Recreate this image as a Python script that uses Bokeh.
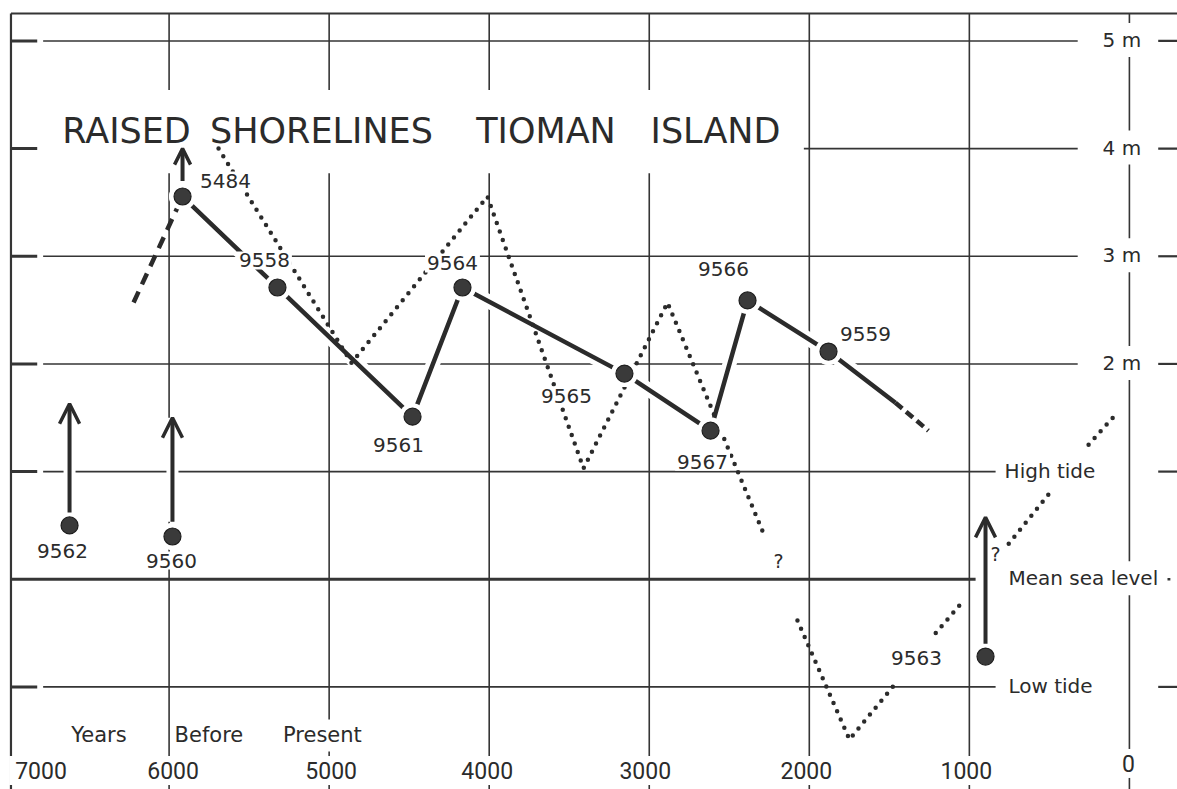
from bokeh.plotting import figure
from bokeh.models import ColumnDataSource, Range1d, Arrow, OpenHead
from bokeh.core.properties import value
from bokeh.embed import file_html
from bokeh.resources import INLINE

# ---------------- data (years BP, metres) ----------------
sample_ids = ["5484", "9558", "9561", "9564", "9565", "9567", "9566", "9559", "9562", "9560", "9563"]
sample_years = [5916, 5323, 4479, 4167, 3155, 2617, 2386, 1880, 6622, 5979, 899]
sample_heights = [3.555, 2.71, 1.51, 2.71, 1.91, 1.38, 2.59, 2.115, 0.50, 0.397, -0.718]
label_dx = [43, -13, -14, -10, -58, -8, -24, 37, -7, -1, -69]
label_dy = [-16, -27, 28, -24, 22, 31, -31, -18, 26, 24, 1]

# connected shoreline sequence (solid), with its extension
shore_years = [5916, 5323, 4479, 4167, 3155, 2617, 2386, 1880, 1462]
shore_heights = [3.555, 2.71, 1.51, 2.71, 1.91, 1.38, 2.59, 2.115, 1.64]
lead_years = [6222, 5916]
lead_heights = [2.57, 3.555]
tail_years = [1462, 1256]
tail_heights = [1.64, 1.38]

# upward arrows (minimum heights)
arrow_years = [5916, 6622, 5979, 899]
arrow_from = [3.70, 0.62, 0.535, -0.60]
arrow_to = [4.00, 1.63, 1.50, 0.575]
arrow_head = [16, 20, 20, 20]

# dotted sea-level curve
dotted_years = [[5691, 4860, 4011, 3411, 2886, 2286],
                [2074, 1749, 1461],
                [1210, 1037],
                [754, 480],
                [255, 74]]
dotted_heights = [[4.00, 2.01, 3.555, 1.03, 2.57, 0.425],
                  [-0.383, -1.488, -0.968],
                  [-0.50, -0.20],
                  [0.33, 0.835],
                  [1.25, 1.55]]
question_years = [2192, 837]
question_heights = [0.165, 0.239]

# axes / scale
year_ticks = [7000, 6000, 5000, 4000, 3000, 2000, 1000, 0]
year_tick_labels = ["7000", "6000", "5000", "4000", "3000", "2000", "1000", "0"]
year_tick_dx = [32, 4, 2, -2, -4, -3, -3, -1]
year_tick_dy = [0, 0, 0, 0, 0, 0, 0, -7]
level_values = [5, 4, 3, 2, 1, 0, -1]
level_labels = ["5 m", "4 m", "3 m", "2 m", "High tide", "Mean sea level", "Low tide"]
level_line_end = [323, 323, 323, 323, 836, 961, 836]
level_label_start = [199, 199, 199, 199, 811, 787, 787]

title_words = ["RAISED", "SHORELINES", "TIOMAN", "ISLAND"]
title_word_years = [6266, 5048, 3645, 2586]
title_height = 4.168
xlabel_words = ["Years", "Before", "Present"]
xlabel_word_years = [6438, 5751, 5042]
xlabel_height = -1.451
tick_label_height = -1.776

# frame
frame_left = 6988
frame_top = 5.255
x_lo, x_hi = 7053.4, -300.5
y_lo, y_hi = -1.9529, 5.3757
left_gap_start, left_gap_end = 6824, 6787
right_tick = [-180, -310]
title_box = dict(left=6816, right=2034, top=4.544, bottom=3.77)

INK = "#2b2b2b"
GRID = "#353535"
FONT = value("DejaVu Sans")

p = figure(width=1177, height=789, x_range=Range1d(x_lo, x_hi), y_range=Range1d(y_lo, y_hi),
           output_backend="svg", toolbar_location=None, min_border=0,
           x_axis_type=None, y_axis_type=None)
p.grid.visible = False
p.outline_line_color = None
p.background_fill_color = "white"
p.border_fill_color = "white"

# ---- grid ----
vt = [t for t in year_ticks if t != 7000]
p.segment(x0=vt, x1=vt, y0=[frame_top] * len(vt), y1=[y_lo] * len(vt), line_color=GRID, line_width=1.6)
p.segment(x0=[frame_left], x1=[frame_left], y0=[frame_top], y1=[y_lo], line_color=GRID, line_width=2.2)
p.segment(x0=[frame_left], x1=[x_hi], y0=[frame_top], y1=[frame_top], line_color=GRID, line_width=2.2)

for lv, lend, lab in zip(level_values, level_line_end, level_labels):
    if lv == 0:
        p.segment(x0=[frame_left], x1=[lend], y0=[lv], y1=[lv], line_color=GRID, line_width=3)
        p.segment(x0=[-238], x1=[-256], y0=[lv], y1=[lv], line_color=GRID, line_width=2.5)
    else:
        p.segment(x0=[frame_left], x1=[left_gap_start], y0=[lv], y1=[lv], line_color=GRID, line_width=3)
        p.segment(x0=[left_gap_end], x1=[lend], y0=[lv], y1=[lv], line_color=GRID, line_width=1.6)
        p.segment(x0=[right_tick[0]], x1=[right_tick[1]], y0=[lv], y1=[lv], line_color=GRID, line_width=2.2)

# title box erasing grid
p.quad(line_color=None, fill_color="white", **{k: [v] for k, v in title_box.items()})

# ---- halos ----
p.line(shore_years, shore_heights, line_color="white", line_width=14, line_join="round")
p.segment(x0=arrow_years, x1=arrow_years, y0=arrow_from, y1=arrow_to, line_color="white", line_width=12)
p.scatter(sample_years, sample_heights, size=27, fill_color="white", line_color=None)

# ---- dotted curve ----
p.multi_line(dotted_years, dotted_heights, line_color=INK, line_width=4.5, line_dash="0 9", line_cap="round")

# ---- shoreline lines ----
p.line(shore_years, shore_heights, line_color=INK, line_width=4.5, line_join="round")
p.line(lead_years, lead_heights, line_color=INK, line_width=4.5, line_dash="12 8")
p.line(tail_years, tail_heights, line_color=INK, line_width=4.5, line_dash="9 5")
p.scatter(sample_years, sample_heights, size=27, fill_color="white", line_color=None)
p.scatter(sample_years, sample_heights, size=17, fill_color="#3a3a3a", line_color="#1e1e1e", line_width=1.2)

# ---- arrows ----
for ax, a0, a1, hs in zip(arrow_years, arrow_from, arrow_to, arrow_head):
    p.add_layout(Arrow(end=OpenHead(size=hs, line_width=3.5, line_color=INK),
                       x_start=ax, y_start=a0, x_end=ax, y_end=a1,
                       line_width=4, line_color=INK))

# ---- labels ----
lab_src = ColumnDataSource(dict(x=sample_years, y=sample_heights, t=sample_ids, dx=label_dx, dy=label_dy))
p.text(x="x", y="y", text="t", x_offset="dx", y_offset="dy", source=lab_src,
       text_font=FONT, text_font_size="20px", text_color=INK,
       text_align="center", text_baseline="middle",
       background_fill_color="white", padding=2)

p.text(x=question_years, y=question_heights, text=["?", "?"], text_font=FONT, text_font_size="19px",
       text_color=INK, text_align="center", text_baseline="middle")

p.text(x=title_word_years, y=[title_height] * len(title_words), text=title_words,
       text_font=FONT, text_font_size="35px", text_color=INK,
       text_align="center", text_baseline="middle")

p.text(x=xlabel_word_years, y=[xlabel_height] * len(xlabel_words), text=xlabel_words,
       text_font=FONT, text_font_size="21px", text_color=INK,
       text_align="center", text_baseline="middle",
       background_fill_color="white", padding=4)

tick_src = ColumnDataSource(dict(x=year_ticks, y=[tick_label_height] * len(year_ticks),
                                 t=year_tick_labels, dx=year_tick_dx, dy=year_tick_dy))
p.text(x="x", y="y", text="t", x_offset="dx", y_offset="dy", source=tick_src,
       text_font=value("Roboto"), text_font_size="23px", text_color=INK,
       text_align="center", text_baseline="middle",
       background_fill_color="white", padding=6)

lvl_src = ColumnDataSource(dict(x=level_label_start, y=level_values, t=level_labels))
p.text(x="x", y="y", text="t", source=lvl_src, y_offset=-1,
       text_font=FONT, text_font_size="20px", text_color=INK,
       text_align="left", text_baseline="middle",
       background_fill_color="white", padding=5)

open("out.html", "w").write(file_html(p, INLINE))
